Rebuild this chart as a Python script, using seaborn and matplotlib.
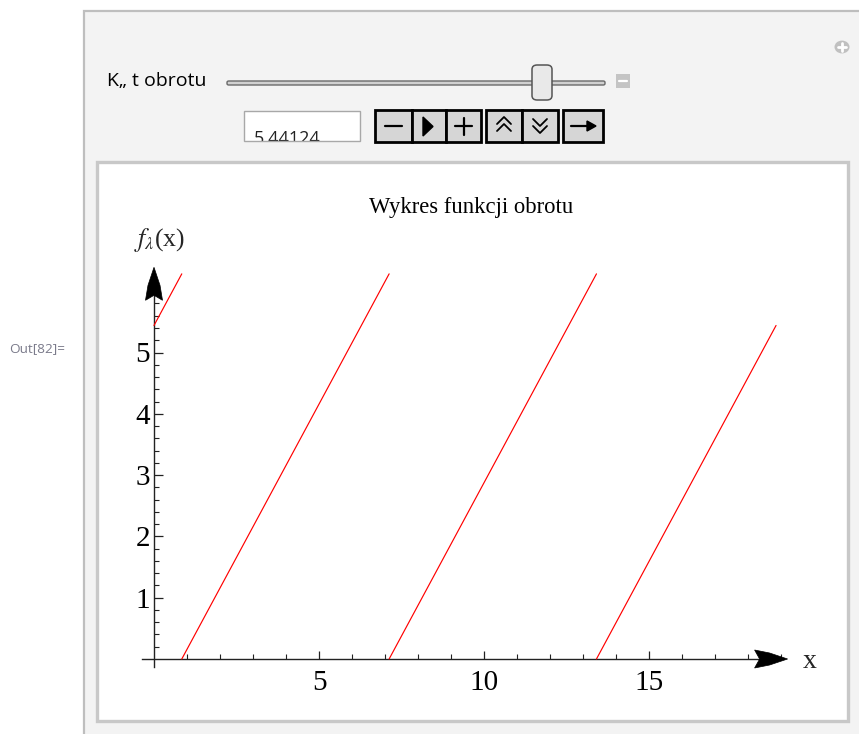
import numpy as np
import pandas as pd
import matplotlib
matplotlib.use("Agg")
import matplotlib.pyplot as plt
import seaborn as sns
from matplotlib.patches import Rectangle, FancyBboxPatch, Polygon, Circle
from matplotlib.lines import Line2D
from matplotlib.ticker import FixedLocator

# ---------------- data ----------------
segment_id = [1, 1, 2, 2, 3, 3, 4, 4]
x_values = [0.0, 0.842, 0.842, 7.125, 7.125, 13.408, 13.408, 18.85]
y_values = [5.441, 6.283, 0.0, 6.283, 0.0, 6.283, 0.0, 5.441]
x_major_ticks = [5, 10, 15]
y_major_ticks = [1, 2, 3, 4, 5]
title_text = "Wykres funkcji obrotu"
slider_label = "K\u201e t obrotu"
slider_value = "5.44124"

df = pd.DataFrame({"seg": segment_id, "x": x_values, "y": y_values})

sns.set_style("white")
plt.rcParams["font.family"] = ["Liberation Serif", "DejaVu Serif"]
plt.rcParams["mathtext.fontset"] = "stix"

W, H = 859, 734
fig = plt.figure(figsize=(W / 100, H / 100), dpi=100)
fig.patch.set_facecolor("white")


def fx(x):
    return x / W


def fy(y):
    return 1 - y / H


def frect(x0, y0, x1, y1, **kw):
    return Rectangle((fx(x0), fy(y1)), (x1 - x0) / W, (y1 - y0) / H,
                     transform=fig.transFigure, **kw)


# outer Manipulate panel
fig.patches.append(frect(84, 11, 870, 745, facecolor="#f3f3f3",
                         edgecolor="#bebebe", linewidth=1.6, zorder=-3))
# inner white panel
fig.patches.append(frect(97, 162, 848, 721, facecolor="white",
                         edgecolor="#c8c8c8", linewidth=2.4, zorder=-2))

# Out label
fig.text(fx(9), fy(349), "Out[82]=", ha="left", va="center", fontsize=9.7,
         color="#7a7a8a", family=["Open Sans", "DejaVu Sans"])

# slider label
fig.text(fx(107), fy(81), slider_label, ha="left", va="center", fontsize=14,
         color="black", family=["Open Sans", "DejaVu Sans"])

# slider track
fig.patches.append(FancyBboxPatch((fx(227), fy(85)), (605 - 227) / W, 4 / H,
                                  boxstyle="round,pad=0,rounding_size=0.002",
                                  transform=fig.transFigure, facecolor="#d0d0d0",
                                  edgecolor="#6a6a6a", linewidth=1.0, zorder=2))
# slider thumb
fig.patches.append(FancyBboxPatch((fx(532), fy(100)), 20 / W, 35 / H,
                                  boxstyle="round,pad=0,rounding_size=0.006",
                                  transform=fig.transFigure, facecolor="#e9e9e9",
                                  edgecolor="#555555", linewidth=1.1, zorder=3))
# small minus square
fig.patches.append(frect(616, 74, 630, 88, facecolor="#c4c4c4",
                         edgecolor="none", zorder=2))
fig.lines.append(Line2D([fx(619), fx(627)], [fy(81), fy(81)], color="white",
                        linewidth=1.6, transform=fig.transFigure, zorder=3))
# plus circle
fig.patches.append(Circle((fx(842), fy(47)), 7.5 / W, transform=fig.transFigure,
                          facecolor="#c0c0c0", edgecolor="none", zorder=2))
fig.lines.append(Line2D([fx(838), fx(846)], [fy(47), fy(47)], color="white",
                        linewidth=2.0, transform=fig.transFigure, zorder=3))
fig.lines.append(Line2D([fx(842), fx(842)], [fy(43), fy(51)], color="white",
                        linewidth=2.0, transform=fig.transFigure, zorder=3))

# input box with clipped value
fig.patches.append(frect(244, 111, 360, 141, facecolor="white",
                         edgecolor="none", zorder=2))
fig.text(fx(254), fy(144), slider_value, ha="left", va="baseline",
         fontsize=13, color="#222222", family=["Open Sans", "DejaVu Sans"],
         zorder=3)
fig.patches.append(frect(240, 141, 365, 158, facecolor="#f3f3f3",
                         edgecolor="none", zorder=4))
fig.patches.append(frect(244, 111, 360, 141, facecolor="none",
                         edgecolor="#a8a8a8", linewidth=1.0, zorder=5))

# buttons
for (x0, x1) in [(375, 412), (412, 446), (446, 481), (486, 522), (522, 558), (563, 603)]:
    fig.patches.append(frect(x0, 110, x1, 142, facecolor="#d6d6d6",
                             edgecolor="black", linewidth=2.0, zorder=2))


def fline(xs, ys, lw=1.6):
    fig.lines.append(Line2D([fx(v) for v in xs], [fy(v) for v in ys],
                            color="black", linewidth=lw,
                            transform=fig.transFigure, zorder=3))


# minus
fline([385, 402], [126, 126])
# play triangle
fig.patches.append(Polygon([(fx(423), fy(117)), (fx(423), fy(136)), (fx(433), fy(126.5))],
                           closed=True, transform=fig.transFigure,
                           facecolor="black", edgecolor="black", zorder=3))
# plus
fline([455, 472], [126, 126])
fline([463.5, 463.5], [118, 135])
# double up chevrons
fline([497, 504, 511], [124, 117, 124], 1.3)
fline([497, 504, 511], [131, 124, 131], 1.3)
# double down chevrons
fline([533, 540, 547], [119, 126, 119], 1.3)
fline([533, 540, 547], [126, 133, 126], 1.3)
# arrow right
fline([571, 590], [126, 126], 1.6)
fig.patches.append(Polygon([(fx(587), fy(121)), (fx(587), fy(131)), (fx(596), fy(126))],
                           closed=True, transform=fig.transFigure,
                           facecolor="black", edgecolor="black", zorder=3))

# ---------------- plot ----------------
ax_l, ax_r, ax_t, ax_b = 120, 830, 250, 700
ax = fig.add_axes([fx(ax_l), fy(ax_b), (ax_r - ax_l) / W, (ax_b - ax_t) / H])
ax.set_facecolor("none")
ax.set_zorder(1)
x0px, x_scale = 154.0, 33.0
y0px, y_scale = 659.0, 61.3
ax.set_xlim((ax_l - x0px) / x_scale, (ax_r - x0px) / x_scale)
ax.set_ylim((y0px - ax_b) / y_scale, (y0px - ax_t) / y_scale)

sns.lineplot(data=df, x="x", y="y", units="seg", estimator=None,
             color="#ff0000", linewidth=0.85, ax=ax, legend=False, zorder=3)

for s in ["top", "right"]:
    ax.spines[s].set_visible(False)
axis_color = "#222222"
ax.spines["left"].set_position(("data", 0))
ax.spines["bottom"].set_position(("data", 0))
ax.spines["left"].set_bounds(-0.13, 6.0)
ax.spines["bottom"].set_bounds(-0.36, 18.7)
for s in ["left", "bottom"]:
    ax.spines[s].set_color(axis_color)
    ax.spines[s].set_linewidth(1.0)

ax.xaxis.set_major_locator(FixedLocator(x_major_ticks))
ax.xaxis.set_minor_locator(FixedLocator([v for v in range(1, 20) if v % 5 != 0]))
ax.yaxis.set_major_locator(FixedLocator(y_major_ticks))
ax.yaxis.set_minor_locator(FixedLocator([round(0.2 * k, 1) for k in range(1, 30) if k % 5 != 0]))
ax.tick_params(bottom=True, left=True, top=False, right=False, which="both")
ax.tick_params(axis="both", which="major", direction="in", length=6, width=0.9,
               color=axis_color, labelsize=21, labelcolor="black")
ax.tick_params(axis="both", which="minor", direction="in", length=3.5, width=0.8,
               color=axis_color)
ax.tick_params(axis="y", which="major", pad=3, length=6.5)
ax.tick_params(axis="x", which="major", pad=8)
ax.set_xlabel("")
ax.set_ylabel("")
for lab in ax.get_xticklabels() + ax.get_yticklabels():
    lab.set_family(["Liberation Serif", "DejaVu Serif"])

# arrowheads at axis ends (Mathematica-style notched heads)
fig.canvas.draw()
tx, ty = ax.transData.transform((19.2, 0.0))
xa = Polygon([(tx, ty), (tx - 18, ty + 6), (tx - 33, ty + 9), (tx - 28, ty),
              (tx - 33, ty - 9), (tx - 18, ty - 6)],
             closed=True, transform=None, facecolor="black", edgecolor="black",
             linewidth=0.5, zorder=6, clip_on=False)
fig.patches.append(xa)
ux, uy = ax.transData.transform((0.0, 6.39))
ya = Polygon([(ux, uy), (ux - 6, uy - 18), (ux - 8.5, uy - 33), (ux, uy - 28),
              (ux + 8.5, uy - 33), (ux + 6, uy - 18)],
             closed=True, transform=None, facecolor="black", edgecolor="black",
             linewidth=0.5, zorder=6, clip_on=False)
fig.patches.append(ya)

# axis labels and title
fig.text(fx(810), fy(661), "x", ha="center", va="center", fontsize=20)
fig.text(fx(160), fy(240), r"$f_{\lambda}$(x)", ha="center", va="center", fontsize=18.5)
fig.text(fx(471), fy(208), title_text, ha="center", va="center", fontsize=16.3,
         color="black")

fig.savefig("out.png", dpi=100)
